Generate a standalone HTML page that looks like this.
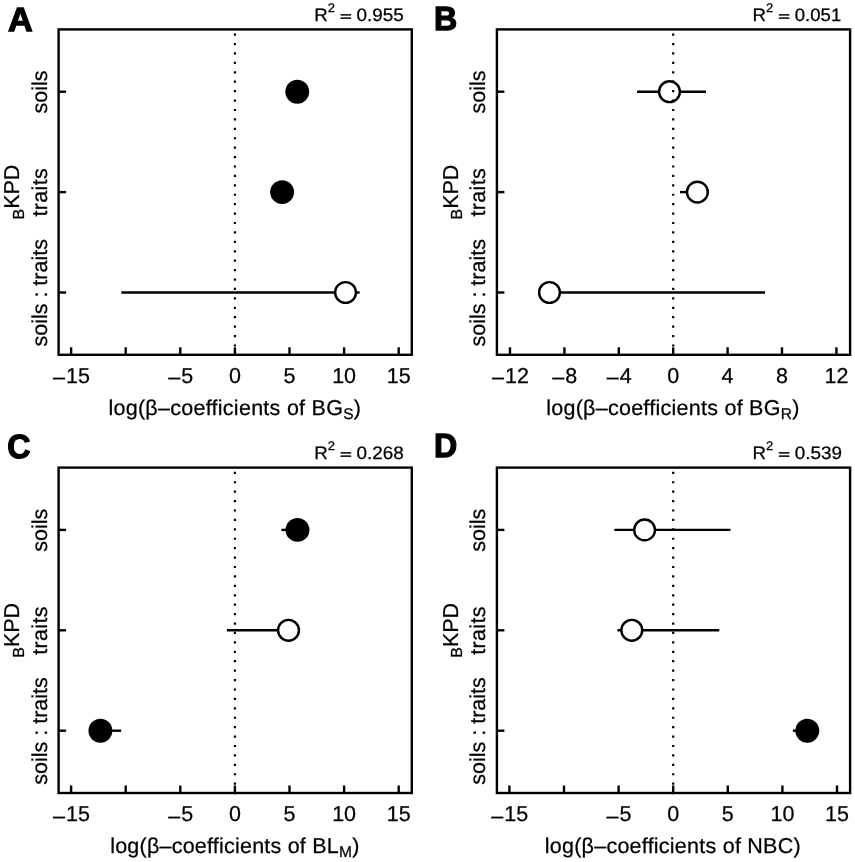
<!DOCTYPE html>
<html lang="en">
<head>
<meta charset="utf-8">
<title>Figure</title>
<style>
html,body{margin:0;padding:0;background:#fff;}
svg{display:block;will-change:transform;}
text{font-family:"Liberation Sans",Arial,Helvetica,sans-serif;fill:#000;stroke:#000;stroke-width:0.25px;stroke-linejoin:round;text-rendering:geometricPrecision;}
.tk{font-size:21.5px;}
.lb{font-size:21.5px;}
.r2{font-size:18px;}
.let{font-size:33.5px;font-weight:bold;stroke-width:1.3px;stroke-linejoin:miter;}
.ln{stroke:#000;stroke-width:2.4;fill:none;stroke-linecap:butt;}
.bx{stroke:#000;stroke-width:2.4;fill:none;stroke-linejoin:miter;}
.dot{stroke:#000;stroke-width:2.2;stroke-dasharray:2.2 7.22;fill:none;}
.op{fill:#fff;stroke:#000;stroke-width:2.4;}
.fl{fill:#000;stroke:none;}
</style>
</head>
<body>
<svg width="855" height="862" viewBox="0 0 855 862">
<rect x="0" y="0" width="855" height="862" fill="#fff"/>
<g transform="translate(0,0)">
<circle class="fl" cx="297.25" cy="91.7" r="11.95"/>
<circle class="fl" cx="282.1" cy="192.1" r="11.95"/>
<line class="ln" x1="121.3" y1="292.5" x2="359.6" y2="292.5"/>
<circle class="op" cx="345.55" cy="292.5" r="10.4"/>
<line class="dot" x1="234.9" y1="356" x2="234.9" y2="30.4"/>
<rect class="bx" x="58.6" y="29.4" width="353.2" height="325.4"/>
<line class="ln" x1="71.1" y1="354.8" x2="71.1" y2="347.3"/>
<text class="tk" x="71.5" y="383.1" text-anchor="middle"><tspan dy="1.3">–</tspan><tspan dx="1.1" dy="-1.3">15</tspan></text>
<line class="ln" x1="125.7" y1="354.8" x2="125.7" y2="347.3"/>
<line class="ln" x1="180.3" y1="354.8" x2="180.3" y2="347.3"/>
<text class="tk" x="180.7" y="383.1" text-anchor="middle"><tspan dy="1.3">–</tspan><tspan dx="1.1" dy="-1.3">5</tspan></text>
<line class="ln" x1="234.9" y1="354.8" x2="234.9" y2="347.3"/>
<text class="tk" x="234.9" y="383.1" text-anchor="middle">0</text>
<line class="ln" x1="289.5" y1="354.8" x2="289.5" y2="347.3"/>
<text class="tk" x="289.5" y="383.1" text-anchor="middle">5</text>
<line class="ln" x1="344.1" y1="354.8" x2="344.1" y2="347.3"/>
<text class="tk" x="344.1" y="383.1" text-anchor="middle">10</text>
<line class="ln" x1="398.7" y1="354.8" x2="398.7" y2="347.3"/>
<text class="tk" x="398.7" y="383.1" text-anchor="middle">15</text>
<line class="ln" x1="58.6" y1="91.7" x2="66.1" y2="91.7"/>
<text class="tk" transform="translate(47,92) rotate(-90)" text-anchor="middle">soils</text>
<line class="ln" x1="58.6" y1="192.1" x2="66.1" y2="192.1"/>
<text class="tk" transform="translate(47,192.4) rotate(-90)" text-anchor="middle" textLength="48.4" lengthAdjust="spacing">traits</text>
<line class="ln" x1="58.6" y1="292.5" x2="66.1" y2="292.5"/>
<text class="tk" transform="translate(47,292.8) rotate(-90)" text-anchor="middle">soils : traits</text>
<text class="lb" transform="translate(19.3,192.1) rotate(-90)" text-anchor="middle"><tspan font-size="16" dy="4.5">B</tspan><tspan dy="-4.5">KPD</tspan></text>
<text class="lb" x="108.4" y="415" textLength="252.6" lengthAdjust="spacing">log(β–coefficients of BG<tspan font-size="15.5" dy="3.7">S</tspan><tspan dy="-3.7">)</tspan></text>
<text class="r2" transform="translate(314.2,20.7) scale(1.04,1)">R<tspan font-size="12.5" dy="-9.0">2</tspan></text>
<text class="r2" transform="translate(345.8,20.65) scale(1.12,0.76)" text-anchor="middle" style="stroke-width:0.75px">=</text>
<text class="r2" transform="translate(403.8,20.7) scale(1.05,1)" text-anchor="end">0.955</text>
</g>
<g transform="translate(438.3,0)">
<line class="ln" x1="198.8" y1="91.7" x2="267.7" y2="91.7"/>
<circle class="op" cx="231.2" cy="91.7" r="10.4"/>
<line class="ln" x1="241.7" y1="192.1" x2="259.1" y2="192.1"/>
<circle class="op" cx="259.1" cy="192.1" r="10.4"/>
<line class="ln" x1="111.2" y1="292.5" x2="326.7" y2="292.5"/>
<circle class="op" cx="111.2" cy="292.5" r="10.4"/>
<line class="dot" x1="234.9" y1="356" x2="234.9" y2="30.4"/>
<rect class="bx" x="58.6" y="29.4" width="353.2" height="325.4"/>
<line class="ln" x1="71.7" y1="354.8" x2="71.7" y2="347.3"/>
<text class="tk" x="72.1" y="383.1" text-anchor="middle"><tspan dy="1.3">–</tspan><tspan dx="1.1" dy="-1.3">12</tspan></text>
<line class="ln" x1="126.1" y1="354.8" x2="126.1" y2="347.3"/>
<text class="tk" x="126.5" y="383.1" text-anchor="middle"><tspan dy="1.3">–</tspan><tspan dx="1.1" dy="-1.3">8</tspan></text>
<line class="ln" x1="180.5" y1="354.8" x2="180.5" y2="347.3"/>
<text class="tk" x="180.9" y="383.1" text-anchor="middle"><tspan dy="1.3">–</tspan><tspan dx="1.1" dy="-1.3">4</tspan></text>
<line class="ln" x1="234.9" y1="354.8" x2="234.9" y2="347.3"/>
<text class="tk" x="234.9" y="383.1" text-anchor="middle">0</text>
<line class="ln" x1="289.3" y1="354.8" x2="289.3" y2="347.3"/>
<text class="tk" x="289.3" y="383.1" text-anchor="middle">4</text>
<line class="ln" x1="343.7" y1="354.8" x2="343.7" y2="347.3"/>
<text class="tk" x="343.7" y="383.1" text-anchor="middle">8</text>
<line class="ln" x1="398.1" y1="354.8" x2="398.1" y2="347.3"/>
<text class="tk" x="398.1" y="383.1" text-anchor="middle">12</text>
<line class="ln" x1="58.6" y1="91.7" x2="66.1" y2="91.7"/>
<text class="tk" transform="translate(47,92) rotate(-90)" text-anchor="middle">soils</text>
<line class="ln" x1="58.6" y1="192.1" x2="66.1" y2="192.1"/>
<text class="tk" transform="translate(47,192.4) rotate(-90)" text-anchor="middle" textLength="48.4" lengthAdjust="spacing">traits</text>
<line class="ln" x1="58.6" y1="292.5" x2="66.1" y2="292.5"/>
<text class="tk" transform="translate(47,292.8) rotate(-90)" text-anchor="middle">soils : traits</text>
<text class="lb" transform="translate(19.3,192.1) rotate(-90)" text-anchor="middle"><tspan font-size="16" dy="4.5">B</tspan><tspan dy="-4.5">KPD</tspan></text>
<text class="lb" x="107.9" y="415" textLength="253.1" lengthAdjust="spacing">log(β–coefficients of BG<tspan font-size="15.5" dy="3.7">R</tspan><tspan dy="-3.7">)</tspan></text>
<text class="r2" transform="translate(314.2,20.7) scale(1.04,1)">R<tspan font-size="12.5" dy="-9.0">2</tspan></text>
<text class="r2" transform="translate(345.8,20.65) scale(1.12,0.76)" text-anchor="middle" style="stroke-width:0.75px">=</text>
<text class="r2" transform="translate(402.9,20.7) scale(1.03,1)" text-anchor="end">0.051</text>
</g>
<g transform="translate(0,438.2)">
<line class="ln" x1="281.4" y1="91.7" x2="297.5" y2="91.7"/>
<circle class="fl" cx="297.5" cy="91.7" r="11.95"/>
<line class="ln" x1="226.9" y1="192.1" x2="288.5" y2="192.1"/>
<circle class="op" cx="288.5" cy="192.1" r="10.4"/>
<line class="ln" x1="100.4" y1="292.5" x2="121.1" y2="292.5"/>
<circle class="fl" cx="100.4" cy="292.5" r="11.95"/>
<line class="dot" x1="234.9" y1="356" x2="234.9" y2="30.4"/>
<rect class="bx" x="58.6" y="29.4" width="353.2" height="325.4"/>
<line class="ln" x1="71.1" y1="354.8" x2="71.1" y2="347.3"/>
<text class="tk" x="71.5" y="383.1" text-anchor="middle"><tspan dy="1.3">–</tspan><tspan dx="1.1" dy="-1.3">15</tspan></text>
<line class="ln" x1="125.7" y1="354.8" x2="125.7" y2="347.3"/>
<line class="ln" x1="180.3" y1="354.8" x2="180.3" y2="347.3"/>
<text class="tk" x="180.7" y="383.1" text-anchor="middle"><tspan dy="1.3">–</tspan><tspan dx="1.1" dy="-1.3">5</tspan></text>
<line class="ln" x1="234.9" y1="354.8" x2="234.9" y2="347.3"/>
<text class="tk" x="234.9" y="383.1" text-anchor="middle">0</text>
<line class="ln" x1="289.5" y1="354.8" x2="289.5" y2="347.3"/>
<text class="tk" x="289.5" y="383.1" text-anchor="middle">5</text>
<line class="ln" x1="344.1" y1="354.8" x2="344.1" y2="347.3"/>
<text class="tk" x="344.1" y="383.1" text-anchor="middle">10</text>
<line class="ln" x1="398.7" y1="354.8" x2="398.7" y2="347.3"/>
<text class="tk" x="398.7" y="383.1" text-anchor="middle">15</text>
<line class="ln" x1="58.6" y1="91.7" x2="66.1" y2="91.7"/>
<text class="tk" transform="translate(47,92) rotate(-90)" text-anchor="middle">soils</text>
<line class="ln" x1="58.6" y1="192.1" x2="66.1" y2="192.1"/>
<text class="tk" transform="translate(47,192.4) rotate(-90)" text-anchor="middle" textLength="48.4" lengthAdjust="spacing">traits</text>
<line class="ln" x1="58.6" y1="292.5" x2="66.1" y2="292.5"/>
<text class="tk" transform="translate(47,292.8) rotate(-90)" text-anchor="middle">soils : traits</text>
<text class="lb" transform="translate(19.3,192.1) rotate(-90)" text-anchor="middle"><tspan font-size="16" dy="4.5">B</tspan><tspan dy="-4.5">KPD</tspan></text>
<text class="lb" x="110.2" y="415" textLength="249.1" lengthAdjust="spacing">log(β–coefficients of BL<tspan font-size="15.5" dy="3.7">M</tspan><tspan dy="-3.7">)</tspan></text>
<text class="r2" transform="translate(314.2,20.7) scale(1.04,1)">R<tspan font-size="12.5" dy="-9.0">2</tspan></text>
<text class="r2" transform="translate(345.8,20.65) scale(1.12,0.76)" text-anchor="middle" style="stroke-width:0.75px">=</text>
<text class="r2" transform="translate(403.8,20.7) scale(1.05,1)" text-anchor="end">0.268</text>
</g>
<g transform="translate(438.3,438.2)">
<line class="ln" x1="176" y1="91.7" x2="292.2" y2="91.7"/>
<circle class="op" cx="206.3" cy="91.7" r="10.4"/>
<line class="ln" x1="179.1" y1="192.1" x2="281" y2="192.1"/>
<circle class="op" cx="193.5" cy="192.1" r="10.4"/>
<line class="ln" x1="354.6" y1="292.5" x2="369" y2="292.5"/>
<circle class="fl" cx="369" cy="292.5" r="11.95"/>
<line class="dot" x1="234.9" y1="356" x2="234.9" y2="30.4"/>
<rect class="bx" x="58.6" y="29.4" width="353.2" height="325.4"/>
<line class="ln" x1="71.1" y1="354.8" x2="71.1" y2="347.3"/>
<text class="tk" x="71.5" y="383.1" text-anchor="middle"><tspan dy="1.3">–</tspan><tspan dx="1.1" dy="-1.3">15</tspan></text>
<line class="ln" x1="125.7" y1="354.8" x2="125.7" y2="347.3"/>
<line class="ln" x1="180.3" y1="354.8" x2="180.3" y2="347.3"/>
<text class="tk" x="180.7" y="383.1" text-anchor="middle"><tspan dy="1.3">–</tspan><tspan dx="1.1" dy="-1.3">5</tspan></text>
<line class="ln" x1="234.9" y1="354.8" x2="234.9" y2="347.3"/>
<text class="tk" x="234.9" y="383.1" text-anchor="middle">0</text>
<line class="ln" x1="289.5" y1="354.8" x2="289.5" y2="347.3"/>
<text class="tk" x="289.5" y="383.1" text-anchor="middle">5</text>
<line class="ln" x1="344.1" y1="354.8" x2="344.1" y2="347.3"/>
<text class="tk" x="344.1" y="383.1" text-anchor="middle">10</text>
<line class="ln" x1="398.7" y1="354.8" x2="398.7" y2="347.3"/>
<text class="tk" x="398.7" y="383.1" text-anchor="middle">15</text>
<line class="ln" x1="58.6" y1="91.7" x2="66.1" y2="91.7"/>
<text class="tk" transform="translate(47,92) rotate(-90)" text-anchor="middle">soils</text>
<line class="ln" x1="58.6" y1="192.1" x2="66.1" y2="192.1"/>
<text class="tk" transform="translate(47,192.4) rotate(-90)" text-anchor="middle" textLength="48.4" lengthAdjust="spacing">traits</text>
<line class="ln" x1="58.6" y1="292.5" x2="66.1" y2="292.5"/>
<text class="tk" transform="translate(47,292.8) rotate(-90)" text-anchor="middle">soils : traits</text>
<text class="lb" transform="translate(19.3,192.1) rotate(-90)" text-anchor="middle"><tspan font-size="16" dy="4.5">B</tspan><tspan dy="-4.5">KPD</tspan></text>
<text class="lb" x="106.5" y="415" textLength="255.8" lengthAdjust="spacing">log(β–coefficients of NBC)</text>
<text class="r2" transform="translate(314.2,20.7) scale(1.04,1)">R<tspan font-size="12.5" dy="-9.0">2</tspan></text>
<text class="r2" transform="translate(345.8,20.65) scale(1.12,0.76)" text-anchor="middle" style="stroke-width:0.75px">=</text>
<text class="r2" transform="translate(403.8,20.7) scale(1.05,1)" text-anchor="end">0.539</text>
</g>
<text class="let" transform="translate(7.9,30.7) scale(1.02,1)">A</text>
<text class="let" transform="translate(433.9,30.45) scale(0.96,1)">B</text>
<text class="let" transform="translate(7.3,457.6) scale(0.96,1)">C</text>
<text class="let" transform="translate(433.9,456.85) scale(0.96,1)">D</text>
</svg>
</body>
</html>
